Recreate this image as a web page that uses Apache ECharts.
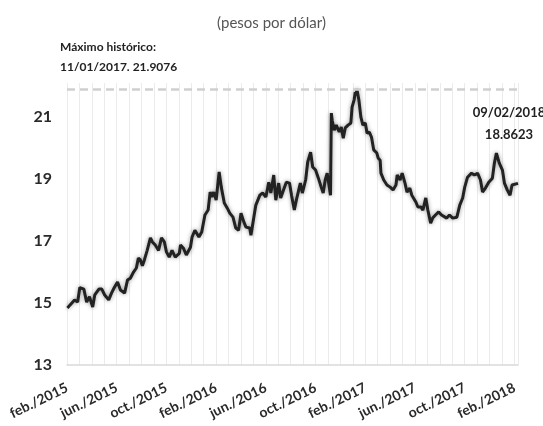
<!DOCTYPE html>
<html>
<head>
<meta charset="utf-8">
<script src="https://cdn.jsdelivr.net/npm/echarts@6/dist/echarts.min.js"></script>
<style>
  html, body { margin: 0; padding: 0; background: #fff; }
  #chart { width: 543px; height: 426px; }
</style>
</head>
<body>
<div id="chart"></div>
<script>
// tipo de cambio (pesos por dólar)
const dates = [
  '2015-02-02', '2015-02-08', '2015-02-18', '2015-02-25', '2015-03-02', '2015-03-12', '2015-03-19', '2015-03-26',
  '2015-04-03', '2015-04-08', '2015-04-18', '2015-04-25', '2015-05-02', '2015-05-12', '2015-05-19', '2015-05-26',
  '2015-06-03', '2015-06-10', '2015-06-20', '2015-06-27', '2015-07-04', '2015-07-12', '2015-07-19', '2015-07-24',
  '2015-07-29', '2015-08-03', '2015-08-08', '2015-08-15', '2015-08-23', '2015-08-28', '2015-09-04', '2015-09-12',
  '2015-09-19', '2015-09-26', '2015-10-01', '2015-10-08', '2015-10-15', '2015-10-23', '2015-11-02', '2015-11-05',
  '2015-11-12', '2015-11-19', '2015-11-29', '2015-12-03', '2015-12-10', '2015-12-20', '2015-12-27', '2016-01-04',
  '2016-01-12', '2016-01-17', '2016-01-21', '2016-01-26', '2016-02-01', '2016-02-08', '2016-02-13', '2016-02-20',
  '2016-02-27', '2016-03-04', '2016-03-12', '2016-03-19', '2016-03-26', '2016-04-01', '2016-04-08', '2016-04-13',
  '2016-04-22', '2016-04-25', '2016-05-02', '2016-05-07', '2016-05-17', '2016-05-24', '2016-06-01', '2016-06-08',
  '2016-06-13', '2016-06-20', '2016-06-25', '2016-07-02', '2016-07-07', '2016-07-14', '2016-07-21', '2016-07-29',
  '2016-08-03', '2016-08-10', '2016-08-15', '2016-08-25', '2016-08-30', '2016-09-07', '2016-09-12', '2016-09-19',
  '2016-09-24', '2016-10-01', '2016-10-08', '2016-10-15', '2016-10-20', '2016-10-25', '2016-10-30', '2016-11-07',
  '2016-11-09', '2016-11-11', '2016-11-16', '2016-11-21', '2016-11-28', '2016-12-03', '2016-12-08', '2016-12-13',
  '2016-12-20', '2016-12-27', '2016-12-30', '2017-01-04', '2017-01-07', '2017-01-09', '2017-01-11', '2017-01-16',
  '2017-01-21', '2017-01-26', '2017-02-01', '2017-02-05', '2017-02-10', '2017-02-15', '2017-02-20', '2017-02-27',
  '2017-03-02', '2017-03-07', '2017-03-09', '2017-03-16', '2017-03-24', '2017-04-01', '2017-04-08', '2017-04-15',
  '2017-04-18', '2017-04-25', '2017-04-30', '2017-05-07', '2017-05-12', '2017-05-19', '2017-05-24', '2017-06-03',
  '2017-06-08', '2017-06-15', '2017-06-20', '2017-06-27', '2017-07-02', '2017-07-09', '2017-07-14', '2017-07-21',
  '2017-07-29', '2017-08-05', '2017-08-18', '2017-08-25', '2017-09-02', '2017-09-12', '2017-09-19', '2017-09-26',
  '2017-10-01', '2017-10-08', '2017-10-18', '2017-10-25', '2017-11-02', '2017-11-09', '2017-11-14', '2017-11-21',
  '2017-11-29', '2017-12-08', '2017-12-13', '2017-12-18', '2017-12-25', '2018-01-02', '2018-01-07', '2018-01-14',
  '2018-01-21', '2018-01-26', '2018-02-09'
]
const rates = [
  14.84, 14.94, 15.10, 15.03, 15.50, 15.45, 15.03, 15.20,
  14.87, 15.26, 15.45, 15.45, 15.26, 15.10, 15.32, 15.50,
  15.68, 15.42, 15.32, 15.74, 15.80, 16.00, 16.13, 16.45,
  16.39, 16.20, 16.39, 16.70, 17.10, 16.97, 16.87, 16.70,
  17.10, 16.97, 16.65, 16.48, 16.70, 16.48, 16.60, 16.87,
  16.77, 16.55, 16.80, 17.13, 17.35, 17.13, 17.29, 17.84,
  18.00, 18.58, 18.42, 18.58, 18.32, 19.23, 18.74, 18.23,
  18.06, 17.90, 17.77, 17.42, 17.35, 17.90, 17.61, 17.45,
  17.42, 17.19, 17.77, 18.16, 18.48, 18.55, 18.42, 18.90,
  18.55, 19.13, 18.32, 18.87, 18.39, 18.65, 18.90, 18.87,
  18.48, 18.00, 18.32, 18.87, 18.55, 18.97, 19.55, 19.87,
  19.39, 19.29, 19.03, 18.74, 18.55, 18.97, 19.19, 18.48,
  21.13, 20.90, 20.58, 20.74, 20.52, 20.68, 20.32, 20.65,
  20.74, 20.81, 21.32, 21.55, 21.80, 21.70, 21.9076, 21.55,
  21.00, 20.74, 20.81, 20.48, 20.52, 20.35, 19.94, 19.84,
  19.68, 19.61, 19.19, 18.97, 18.81, 18.74, 18.65, 18.81,
  19.13, 18.97, 19.19, 18.87, 18.58, 18.71, 18.48, 18.26,
  18.10, 18.10, 18.00, 18.39, 18.00, 17.58, 17.74, 17.84,
  17.94, 17.84, 17.74, 17.84, 17.74, 17.77, 18.16, 18.39,
  18.74, 19.06, 19.19, 19.13, 19.19, 18.97, 18.58, 18.71,
  18.90, 19.03, 19.52, 19.84, 19.52, 19.29, 18.87, 18.65,
  18.48, 18.81, 18.8623
]
const monthNames = ['ene.', 'feb.', 'mar.', 'abr.', 'may.', 'jun.', 'jul.', 'ago.', 'sep.', 'oct.', 'nov.', 'dic.']
const yTicks = [13, 15, 17, 19, 21]
const maxValue = 21.9076
const maxLabel = ['Máximo histórico:', '11/01/2017. 21.9076']
const lastLabel = ['09/02/2018', '18.8623']

const font = 'Lato, "Open Sans", sans-serif'

// meses transcurridos desde feb. 2015
function toMonths(s) {
  const [y, m, d] = s.split('-').map(Number)
  const days = new Date(y, m, 0).getDate()
  return (y - 2015) * 12 + (m - 2) + (d - 1) / days
}

const seriesData = dates.map((d, i) => [toMonths(d), rates[i]])
const xMax = toMonths(dates[dates.length - 1])

const chart = echarts.init(document.getElementById('chart'))
chart.setOption({
  animation: false,
  title: {
    text: '(pesos por dólar)',
    left: 'center',
    top: 11,
    textStyle: { fontFamily: font, fontSize: 15, fontWeight: 'normal', color: '#555' }
  },
  grid: { left: 67, right: 25, top: 83, bottom: 61, outerBoundsMode: 'none' },
  xAxis: {
    type: 'value',
    min: 0,
    max: xMax,
    interval: 1,
    axisLine: { show: true, lineStyle: { color: '#d9d9d9', width: 1.5 } },
    axisTick: { show: false },
    splitLine: { show: true, lineStyle: { color: '#ebebeb', width: 1 } },
    axisLabel: {
      rotate: 26,
      margin: 22,
      fontFamily: font,
      fontSize: 14,
      fontWeight: 'bold',
      color: '#2a2a2a',
      formatter: v => {
        if (!Number.isInteger(v) || v % 4 !== 0) return ''
        return monthNames[(1 + v) % 12] + '/' + (2015 + Math.floor((1 + v) / 12))
      }
    }
  },
  yAxis: {
    type: 'value',
    min: 13,
    max: 22.1,
    interval: 1,
    axisLine: { show: false },
    axisTick: { show: false },
    splitLine: { show: false },
    axisLabel: {
      margin: 15,
      fontFamily: font,
      fontSize: 16,
      fontWeight: 'bold',
      color: '#2a2a2a',
      formatter: v => (yTicks.includes(v) ? String(v) : '')
    }
  },
  series: [{
    type: 'line',
    data: seriesData,
    symbol: 'none',
    lineStyle: {
      color: '#222',
      width: 3,
      shadowColor: 'rgba(0,0,0,0.4)',
      shadowBlur: 4
    },
    markLine: {
      silent: true,
      symbol: ['none', 'none'],
      label: { show: false },
      lineStyle: { color: '#cfcfcf', width: 2.5, type: [8, 5] },
      data: [{ yAxis: maxValue }]
    }
  }],
  graphic: [
    {
      type: 'text', left: 60, top: 41, z: 100,
      style: { text: maxLabel[0], font: 'bold 12px ' + font, fill: '#222' }
    },
    {
      type: 'text', left: 60, top: 61, z: 100,
      style: { text: maxLabel[1], font: 'bold 12px ' + font, fill: '#222' }
    },
    {
      type: 'text', x: 509, y: 106, z: 100,
      style: { text: lastLabel[0], font: 'bold 13px ' + font, fill: '#222', textAlign: 'center' }
    },
    {
      type: 'text', x: 509, y: 128, z: 100,
      style: { text: lastLabel[1], font: 'bold 13px ' + font, fill: '#222', textAlign: 'center' }
    }
  ]
})
</script>
</body>
</html>
